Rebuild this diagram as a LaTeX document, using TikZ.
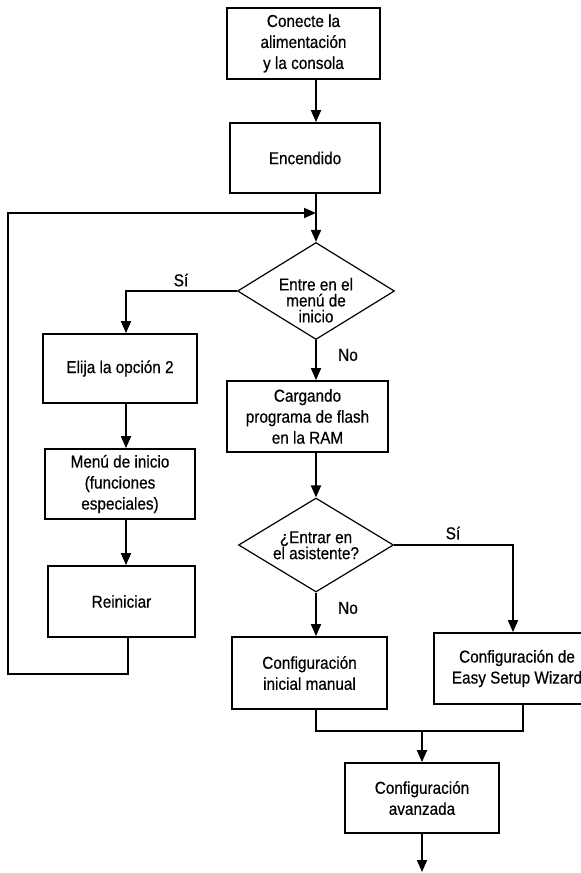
\documentclass[tikz,border=0pt]{standalone}
\usepackage{fontspec}
\setmainfont{Liberation Sans}[FakeStretch=0.89,FakeBold=0.5]
\usetikzlibrary{arrows.meta,shapes.geometric}

\newcommand{\rombo}[2]{\raisebox{-#1}[6pt][6pt]{\parbox{50pt}{\centering\baselineskip=8pt #2}}}

\tikzset{
  box/.style={draw,line width=0.9pt,align=center,inner sep=0pt},
  decision/.style={draw,diamond,line width=0.6pt,inner sep=0pt,aspect=1.63},
  line/.style={line width=0.9pt},
  arr/.style={line width=0.9pt,-{Triangle[width=5pt,length=6pt]}},
}

\begin{document}
\begin{tikzpicture}[x=0.5pt,y=-0.5pt,font=\fontsize{8.6}{10.5}\selectfont]
\useasboundingbox (0,0) rectangle (581,873);

% columns of the connectors
\coordinate (colizq) at (126,0);
\coordinate (colret) at (128,0);
\coordinate (colsi) at (513,0);
\coordinate (colfin) at (523,0);
\coordinate (vuelta) at (316,213);
\coordinate (union) at (422,731);
\coordinate (fin) at (422,872);

\node[box,minimum width=76.5pt,minimum height=35.5pt] (conecte) at (303.5,43.5) {Conecte la\\alimentación\\y la consola};
\node[box,minimum width=75pt,minimum height=35pt] (encendido) at (305,158) {Encendido};
\node[decision,minimum width=78.5pt,minimum height=48.5pt] (entra) at (316,291) {\rombo{6.9pt}{Entre en el\\menú de\\inicio}};
\node[box,minimum width=77pt,minimum height=34.5pt] (elija) at (120,368.5) {Elija la opción 2};
\node[box,minimum width=75pt,minimum height=35pt] (menu) at (120,484) {Menú de inicio\\(funciones\\especiales)};
\node[box,minimum width=73.5pt,minimum height=35.5pt] (reiniciar) at (121.5,601.5) {Reiniciar};
\node[box,minimum width=80.5pt,minimum height=35.5pt] (cargando) at (307.5,416.5) {Cargando\\programa de flash\\en la RAM};
\node[decision,minimum width=77.5pt,minimum height=47pt] (asist) at (316,545) {\rombo{2.4pt}{¿Entrar en\\el asistente?}};
\node[box,minimum width=77.5pt,minimum height=36pt] (manual) at (309.5,673) {Configuración\\inicial manual};
\node[box,minimum width=83pt,minimum height=35.5pt] (wizard) at (517,668.5) {Configuración de\\Easy Setup Wizard};
\node[box,minimum width=77pt,minimum height=35pt] (avanzada) at (422,798) {Configuración\\avanzada};

\node (si1) at (181,280) {Sí};
\node (no1) at (348,355) {No};
\node (si2) at (453,533) {Sí};
\node (no2) at (348,608) {No};

\draw[arr] (conecte.south -| entra) -- (encendido.north -| entra);
\draw[arr] (encendido.south -| entra) -- (entra.north);
\draw[arr] (reiniciar.south -| colret) -- ++(0,36) -| (8,213) -- (vuelta);
\draw[arr] (entra.west) -| (elija.north -| colizq);
\draw[arr] (elija.south -| colizq) -- (menu.north -| colizq);
\draw[arr] (menu.south -| colizq) -- (reiniciar.north -| colizq);
\draw[arr] (entra.south) -- (cargando.north -| entra);
\draw[arr] (cargando.south -| asist) -- (asist.north);
\draw[arr] (asist.south) -- (manual.north -| asist);
\draw[arr] (asist.east) -| (wizard.north -| colsi);
\draw[line] (manual.south -| asist) |- (union -| colfin) -- (wizard.south -| colfin);
\draw[arr] (union) -- (avanzada.north);
\draw[arr] (avanzada.south) -- (fin);
\end{tikzpicture}
\end{document}
